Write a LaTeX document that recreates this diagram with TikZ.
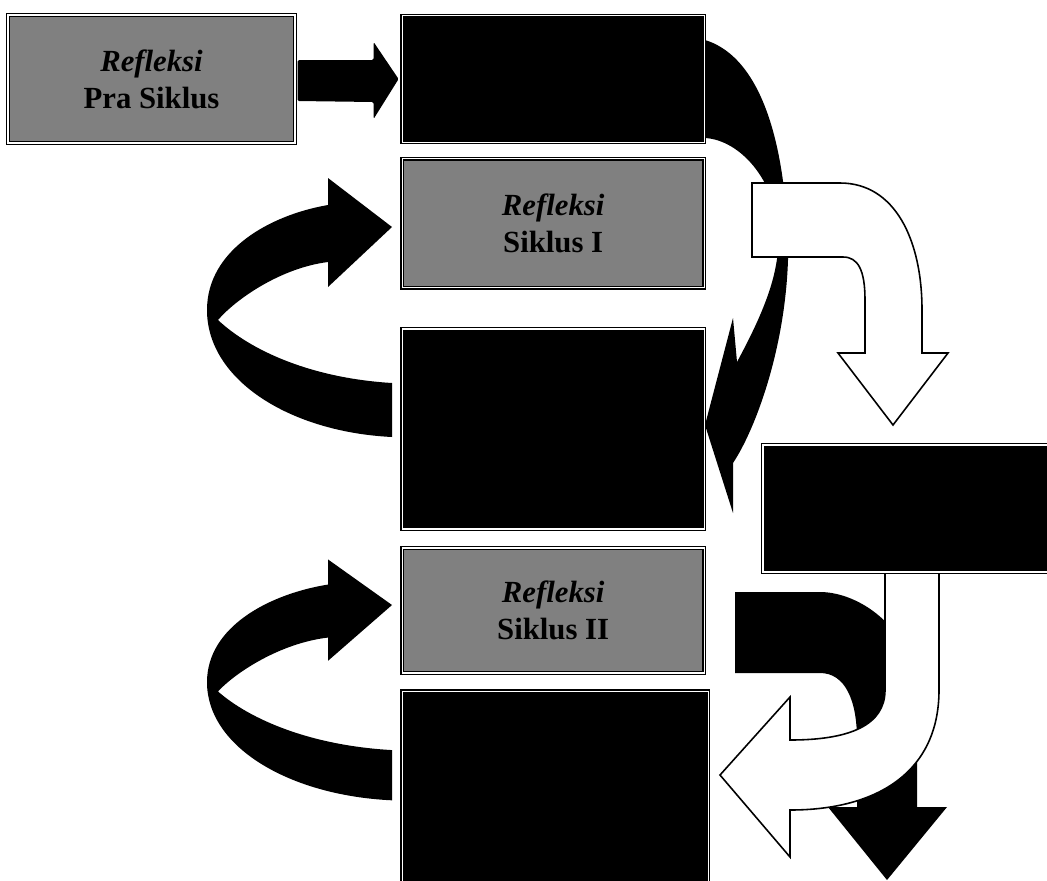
\documentclass[tikz,border=0pt]{standalone}
\usepackage{fontspec}
\setmainfont{Liberation Serif}
\usetikzlibrary{calc,positioning}

\begin{document}
\begin{tikzpicture}[x=0.02cm, y=-0.02cm,
    kotak/.style={rectangle, draw=black, line width=0.7pt, double=white, double distance=0.7pt,
        align=center, font=\bfseries\fontsize{17.5}{21}\selectfont, minimum width=6.04cm},
    abu/.style={kotak, fill=black!50},
    hitam/.style={kotak, fill=black},
    panahputih/.style={fill=white, draw=black, line width=0.9pt, line join=miter}]
    \useasboundingbox (0,0) rectangle (1047,880);
    \clip (0,0) rectangle (1047,880);

    % Curved arrows (behind the boxes)
    \fill (705,40) .. controls (770,60) and (788,170) .. (788,260)
        .. controls (785,350) and (755,430) .. (733,463) -- (733,513) -- (705,425) -- (733,318) -- (737,362)
        .. controls (765,310) and (781,270) .. (778,230) .. controls (775,180) and (740,140) .. (705,138) -- cycle;
    \filldraw [panahputih] (752,183) -- (840,183) .. controls (895,183) and (922,240) .. (922,310)
        -- (922,353) -- (948,353) -- (893,425) -- (838,353) -- (865,353) -- (865,300)
        .. controls (865,270) and (858,257) .. (843,257) -- (752,257) -- cycle;
    \fill (735,592) -- (820,592) .. controls (860,592) and (917,630) .. (917,700)
        -- (917,807) -- (947,807) -- (887,880) -- (828,807) -- (857,807) -- (857,740)
        .. controls (857,700) and (845,673) .. (820,673) -- (735,673) -- cycle;
    \filldraw [panahputih] (885,560) -- (885,690) .. controls (885,725) and (850,740) .. (790,740)
        -- (790,697) -- (720,775) -- (790,857) -- (790,810)
        .. controls (880,810) and (939,770) .. (939,690) -- (939,560) -- cycle;
    \foreach \dy/\sy in {227/1, 605/0.93} {
        \begin{scope}[shift={(0,\dy)}, yscale=\sy, shift={(0,-227)}]
            \fill (392,383) .. controls (310,378) and (250,350) .. (218,320)
                .. controls (235,300) and (280,268) .. (328,262) -- (328,287) -- (392,227) -- (328,178) -- (328,205)
                .. controls (270,215) and (207,250) .. (207,310) .. controls (207,380) and (290,432) .. (392,437) -- cycle;
        \end{scope}
    }

    % Nodes
    \node [abu, minimum width=5.74cm, minimum height=2.56cm] (pra) at (151.5,79) {\textit{Refleksi}\\Pra Siklus};
    \node [hitam, minimum height=2.54cm]  (rencana1) [right=2.12cm of pra]    {};
    \node [abu, minimum height=2.58cm]    (siklus1)  [below=0.3cm of rencana1] {\textit{Refleksi}\\Siklus I};
    \node [hitam, minimum height=4cm]     (tindakan1) [below=0.8cm of siklus1] {};
    \node [abu, minimum height=2.5cm]     (siklus2)  [below=0.36cm of tindakan1] {\textit{Refleksi}\\Siklus II};
    \node [hitam, minimum width=6.12cm, minimum height=4cm] (tindakan2) [below=0.34cm of siklus2, xshift=0.04cm] {};
    \node [hitam, minimum width=5.78cm, minimum height=2.54cm] (rencana2) at (907.5,508.5) {};

    % Straight arrow
    \fill [rounded corners=0.8pt] ([shift={(2,-19)}]pra.east) -- ++(76,0) -- ++(0,-18)
        -- ([shift={(-3,0)}]rencana1.west) -- ++(-25,40) -- ++(0,-17) -- ([shift={(2,22)}]pra.east) -- cycle;
\end{tikzpicture}
\end{document}
